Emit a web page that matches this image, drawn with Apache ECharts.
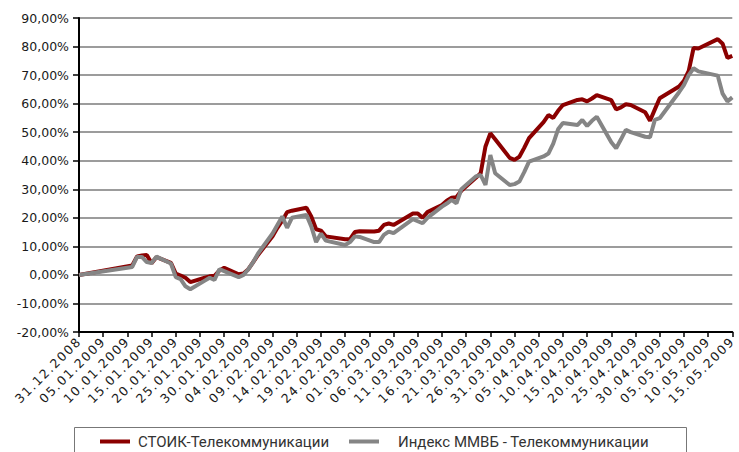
<!DOCTYPE html>
<html>
<head>
<meta charset="utf-8">
<script src="https://cdn.jsdelivr.net/npm/echarts@6/dist/echarts.min.js"></script>
<style>
  html, body { margin: 0; padding: 0; background: #fff; }
  #chart { width: 739px; height: 452px; }
</style>
</head>
<body>
<div id="chart"></div>
<script>
// торговые дни
var dates = [
  '31.12.2008','11.01.2009','12.01.2009','13.01.2009','14.01.2009','15.01.2009','16.01.2009',
  '19.01.2009','20.01.2009','21.01.2009','22.01.2009','23.01.2009',
  '26.01.2009','27.01.2009','28.01.2009','29.01.2009','30.01.2009',
  '02.02.2009','03.02.2009','04.02.2009','05.02.2009','06.02.2009',
  '09.02.2009','10.02.2009','11.02.2009','12.02.2009','13.02.2009',
  '16.02.2009','17.02.2009','18.02.2009','19.02.2009','20.02.2009',
  '24.02.2009','25.02.2009','26.02.2009','27.02.2009',
  '02.03.2009','03.03.2009','04.03.2009','05.03.2009','06.03.2009',
  '10.03.2009','11.03.2009','12.03.2009','13.03.2009',
  '16.03.2009','17.03.2009','18.03.2009','19.03.2009','20.03.2009',
  '23.03.2009','24.03.2009','25.03.2009','26.03.2009','27.03.2009',
  '30.03.2009','31.03.2009','01.04.2009','02.04.2009','03.04.2009',
  '06.04.2009','07.04.2009','08.04.2009','09.04.2009','10.04.2009',
  '13.04.2009','14.04.2009','15.04.2009','16.04.2009','17.04.2009',
  '20.04.2009','21.04.2009','22.04.2009','23.04.2009','24.04.2009',
  '27.04.2009','28.04.2009','29.04.2009','30.04.2009',
  '04.05.2009','05.05.2009','06.05.2009','07.05.2009','08.05.2009',
  '12.05.2009','13.05.2009','14.05.2009','15.05.2009'
];
// СТОИК-Телекоммуникации, %
var stoik = [
  0, 3.3, 6.5, 6.8, 7.0, 4.1, 6.2,
  4.2, 0.5, -0.2, -1.0, -2.5,
  -1.0, -0.5, -0.3, 1.5, 2.5,
  0.2, 0.5, 2.0, 4.5, 7.0,
  13.5, 16.5, 19.0, 22.0, 22.5,
  23.5, 20.5, 16.0, 15.5, 13.5,
  12.5, 12.5, 15.0, 15.3,
  15.2, 15.5, 17.5, 18.0, 17.5,
  21.5, 21.5, 20.0, 22.0,
  24.5, 26.0, 27.0, 27.2, 29.5,
  34.0, 35.6, 45.0, 49.6, 47.5,
  41.0, 40.3, 41.4, 44.5, 47.9,
  53.5, 56.0, 55.0, 57.5, 59.5,
  61.3, 61.5, 60.8, 61.8, 63.0,
  61.2, 58.0, 58.7, 59.8, 59.5,
  57.0, 54.0, 58.0, 61.9,
  66.0, 68.0, 71.5, 79.5, 79.3,
  82.6, 81.0, 76.0, 76.7
];
// Индекс ММВБ - Телекоммуникации, %
var micex = [
  0, 2.8, 6.3, 6.3, 4.5, 4.2, 6.4,
  4.0, -0.8, -1.5, -4.0, -5.0,
  -2.0, -1.0, -1.8, 2.0, 1.3,
  -0.8, 0.0, 2.0, 4.5, 7.5,
  14.5, 17.5, 20.5, 16.5, 20.0,
  21.0, 17.0, 11.5, 14.5, 12.0,
  10.5, 11.5, 13.5, 13.3,
  11.5, 11.5, 14.0, 15.2, 14.6,
  19.5, 18.8, 18.1, 20.0,
  23.9, 25.0, 26.3, 25.1, 30.0,
  34.5, 35.0, 31.5, 42.0, 35.6,
  31.5, 31.8, 32.7, 36.0, 39.7,
  41.5, 42.5, 46.0, 51.0, 53.2,
  52.5, 54.3, 52.2, 54.0, 55.4,
  46.5, 44.4, 47.5, 50.8, 50.0,
  48.4, 48.2, 54.3, 54.9,
  64.0, 66.5, 70.0, 72.4, 71.3,
  69.8, 63.5, 60.8, 62.2
];
var yTicks = [-20, 90, 10];
var names = ['СТОИК-Телекоммуникации', 'Индекс ММВБ - Телекоммуникации'];

var base = Date.UTC(2008, 11, 31);
var DAY = 86400000;
function toDay(s) {
  var p = s.split('.');
  return Math.round((Date.UTC(+p[2], +p[1] - 1, +p[0]) - base) / DAY);
}
function pad(n) { return (n < 10 ? '0' : '') + n; }
function dayLabel(v) {
  var d = new Date(base + v * DAY);
  return pad(d.getUTCDate()) + '.' + pad(d.getUTCMonth() + 1) + '.' + d.getUTCFullYear();
}
function pairs(vals) {
  var out = [];
  for (var i = 0; i < dates.length; i++) out.push([toDay(dates[i]), vals[i]]);
  return out;
}
var lastDay = toDay('15.05.2009');

var chart = echarts.init(document.getElementById('chart'), null, { renderer: 'svg' });
chart.setOption({
  animation: false,
  color: ['#8b0000', '#858585'],
  grid: { left: 79, right: 4, top: 18, bottom: 120, containLabel: false },
  xAxis: {
    type: 'value', min: 0, max: lastDay, interval: 5,
    axisLine: { onZero: false, lineStyle: { color: '#000', width: 2 } },
    axisTick: { show: true, length: 5, lineStyle: { color: '#000', width: 1.5 } },
    splitLine: { show: false },
    axisLabel: {
      rotate: 45, margin: 7, color: '#1a1a1a', fontSize: 12.5, fontFamily: 'DejaVu Sans',
      formatter: function (v) { return dayLabel(v); }
    }
  },
  yAxis: {
    type: 'value', min: yTicks[0], max: yTicks[1], interval: yTicks[2],
    axisLine: { show: true, onZero: false, lineStyle: { color: '#000', width: 2 } },
    axisTick: { show: true, length: 6, lineStyle: { color: '#000', width: 1.5 } },
    splitLine: { lineStyle: { color: '#9c9c9c', width: 2 } },
    axisLabel: {
      margin: 10, color: '#1a1a1a', fontSize: 12.5, fontFamily: 'DejaVu Sans',
      formatter: function (v) { return v.toFixed(2).replace('.', ',') + '%'; }
    }
  },
  legend: [
    {
      data: [names[0]], left: 95, top: 429, itemWidth: 30, itemHeight: 4, icon: 'rect',
      textStyle: { fontFamily: 'Roboto', fontSize: 15, color: '#333', padding: [0, 0, 0, 3] }
    },
    {
      data: [names[1]], left: 344, top: 429, itemWidth: 30, itemHeight: 4, icon: 'rect',
      textStyle: { fontFamily: 'Roboto', fontSize: 15, color: '#333', padding: [0, 0, 0, 14] }
    }
  ],
  graphic: [{
    type: 'rect', left: 72, top: 425, silent: true,
    shape: { width: 612, height: 40 },
    style: { fill: 'none', stroke: '#777', lineWidth: 1 }
  }],
  series: [
    { name: names[0], type: 'line', data: pairs(stoik), showSymbol: false, lineStyle: { width: 4 } },
    { name: names[1], type: 'line', data: pairs(micex), showSymbol: false, lineStyle: { width: 4 } }
  ]
});

// разрядка подписей дат, как в исходнике
var texts = document.querySelectorAll('#chart text');
for (var i = 0; i < texts.length; i++) {
  if (/^\d\d\.\d\d\.\d{4}$/.test(texts[i].textContent)) {
    texts[i].style.letterSpacing = '1.6px';
  }
}
</script>
</body>
</html>
